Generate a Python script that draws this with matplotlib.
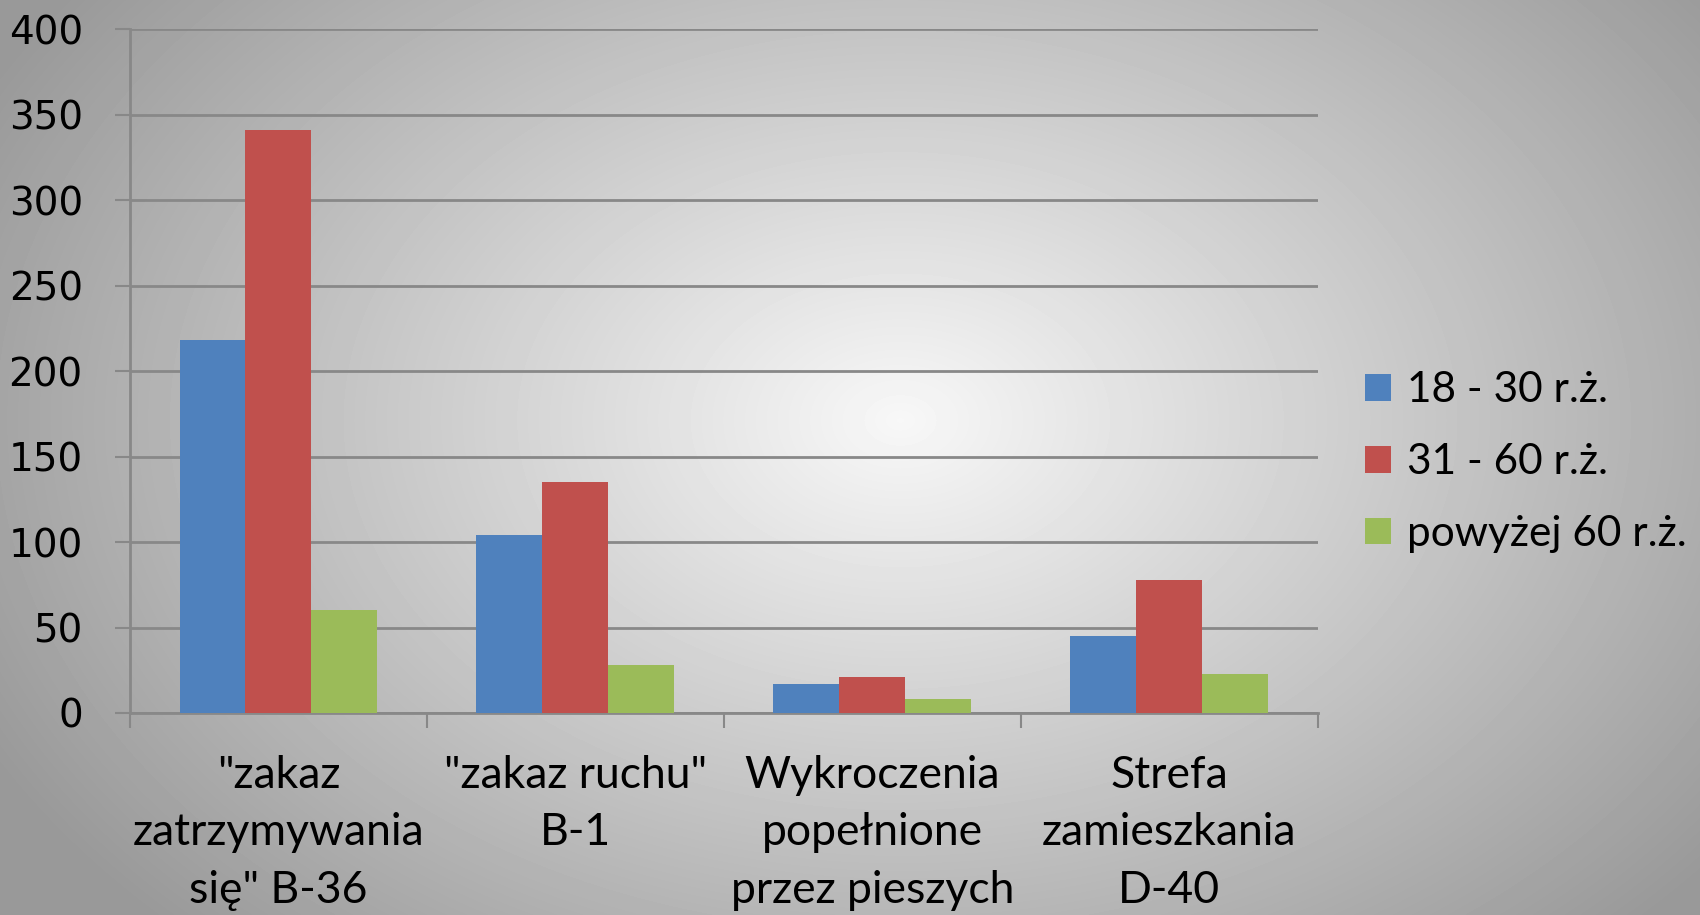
import numpy as np
from matplotlib import pyplot as plt
from matplotlib.patches import Patch

categories = ['"zakaz\nzatrzymywania\nsię" B-36', '"zakaz ruchu"\nB-1',
              'Wykroczenia\npopełnione\nprzez pieszych', 'Strefa\nzamieszkania\nD-40']
series_names = ['18 - 30 r.ż.', '31 - 60 r.ż.', 'powyżej 60 r.ż.']
age_18_30 = [218, 104, 17, 45]
age_31_60 = [341, 135, 21, 78]
age_60_plus = [60, 28, 8, 23]
colors = ['#4f81bd', '#c0504d', '#9bbb59']

fig = plt.figure(figsize=(17, 9.15), dpi=100)

# radial gradient background
bg = fig.add_axes([0, 0, 1, 1], zorder=-10)
yy, xx = np.mgrid[0:915, 0:1700]
cx, cy = 900, 420
r = np.sqrt(((xx - cx) / 1000.0) ** 2 + ((yy - cy) / 700.0) ** 2)
shade = np.clip(0.97 - 0.36 * r, 0.6, 1.0)
bg.imshow(shade, cmap='gray', vmin=0, vmax=1, aspect='auto', interpolation='bilinear')
bg.axis('off')

ax = fig.add_axes([0.0765, 0.2208, 0.6985, 0.7472])
ax.patch.set_alpha(0)

w = 1 / 4.5
x = np.arange(len(categories))
allData = [age_18_30, age_31_60, age_60_plus]
for i in range(3):
    ax.bar(x + (i - 1) * w, allData[i], width=w, color=colors[i], zorder=3,
           edgecolor='none')

ax.set_xlim(-0.5, 3.5)
ax.set_ylim(0, 400)
ax.set_yticks(range(0, 401, 50))
ax.grid(axis='y', color='#888888', linewidth=2, zorder=1)

for side in ['top', 'right']:
    ax.spines[side].set_visible(False)
ax.spines['left'].set_color('#888888')
ax.spines['bottom'].set_color('#888888')
ax.spines['left'].set_linewidth(2)
ax.spines['bottom'].set_linewidth(2)

ax.tick_params(axis='y', length=11, width=1.5, color='#888888', pad=23,
               labelsize=28)
for lbl in ax.get_yticklabels():
    lbl.set_fontfamily('DejaVu Sans')

ax.set_xticks(x)
ax.set_xticklabels(categories, fontsize=32, family='Lato', linespacing=1.5)
ax.tick_params(axis='x', length=0, pad=30)
ax.set_xticks(np.arange(-0.5, 4, 1), minor=True)
ax.tick_params(axis='x', which='minor', length=11, width=1.5, color='#888888')

handles = [Patch(facecolor=c) for c in colors]
fig.legend(handles, series_names, loc='center left', bbox_to_anchor=(0.803, 0.495),
           frameon=False, prop={'family': 'Lato', 'size': 30.5},
           handlelength=0.6, handleheight=0.6, handletextpad=0.4, labelspacing=0.8,
           borderaxespad=0, borderpad=0)

fig.savefig('out.png', dpi=100)
